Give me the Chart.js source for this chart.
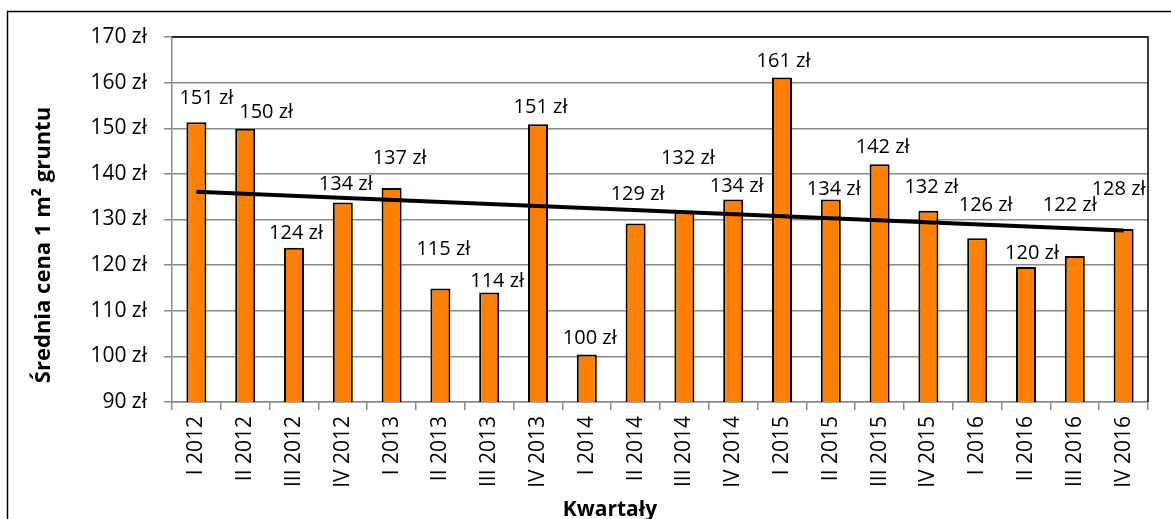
<!DOCTYPE html>
<html>
<head>
<meta charset="utf-8">
<script src="https://cdn.jsdelivr.net/npm/chart.js@4/dist/chart.umd.min.js"></script>
<style>
html,body{margin:0;padding:0;background:#fff;overflow:hidden;}
canvas{display:block;}
</style>
</head>
<body>
<canvas id="c" width="1171" height="519"></canvas>
<script>
const categories = ['I 2012','II 2012','III 2012','IV 2012','I 2013','II 2013','III 2013','IV 2013','I 2014','II 2014','III 2014','IV 2014','I 2015','II 2015','III 2015','IV 2015','I 2016','II 2016','III 2016','IV 2016'];
const prices = [151.3,149.9,123.8,133.7,136.9,114.9,114.0,150.9,100.4,129.1,131.6,134.4,161.1,134.4,142.1,131.9,125.9,119.6,122.0,127.9];
const trendStartEnd = [136.1, 127.6];
const yMin = 90, yMax = 170, yStep = 10;
const currency = ' zł';
const yTitle = 'Średnia cena 1 m² gruntu';
const xTitle = 'Kwartały';

// label placement offsets (style only): [dx, dy] from bar top centre to label centre
const labelOffsets = [[10,-25],[21,-18],[2,-16],[3,-20],[8,-31],[3,-40],[8,-13],[2.5,-18],[3,-18],[2,-31],[3.5,-55],[3.5,-14],[1.5,-18],[3,-11],[3,-18],[3,-25],[8.5,-34],[6,-15],[-5,-52],[-5,-41]];

const trendData = categories.map((c,i)=> i===0 ? trendStartEnd[0] : (i===categories.length-1 ? trendStartEnd[1] : null));

const FONT = "'Open Sans', sans-serif";
const GRID = '#8a8a8a';

const deco = {
  id:'deco',
  beforeDraw(chart){
    const ctx = chart.ctx;
    ctx.save();
    ctx.fillStyle='#fff';
    ctx.fillRect(0,0,chart.width,chart.height);
    ctx.strokeStyle='#000';
    ctx.lineWidth=1.5;
    ctx.beginPath();
    ctx.moveTo(7.5,600); ctx.lineTo(7.5,11.5); ctx.lineTo(1175,11.5);
    ctx.stroke();
    ctx.restore();
  },
  afterDatasetsDraw(chart){
    const ctx = chart.ctx;
    const a = chart.chartArea;
    ctx.save();
    ctx.strokeStyle='#000';
    ctx.lineWidth=1.5;
    ctx.beginPath();
    ctx.moveTo(a.left, a.top); ctx.lineTo(a.right, a.top); ctx.lineTo(a.right, a.bottom);
    ctx.stroke();
    const meta = chart.getDatasetMeta(1);
    ctx.fillStyle='#000';
    ctx.font = '20px ' + FONT;
    ctx.textAlign='center';
    ctx.textBaseline='alphabetic';
    meta.data.forEach((bar,i)=>{
      const off = labelOffsets[i];
      ctx.fillText(Math.round(prices[i]) + currency, bar.x + off[0], bar.y + off[1] + 7);
    });
    ctx.font = 'bold 22px ' + FONT;
    ctx.save();
    ctx.translate(44, 245);
    ctx.rotate(-Math.PI/2);
    ctx.textBaseline='middle';
    ctx.fillText(yTitle, 0, 0);
    ctx.restore();
    ctx.font = 'bold 21px ' + FONT;
    ctx.textBaseline='alphabetic';
    ctx.fillText(xTitle, 610, 516);
    ctx.restore();
  }
};

new Chart(document.getElementById('c'), {
  data: {
    labels: categories,
    datasets: [
      {
        type:'line',
        data: trendData,
        borderColor:'#000',
        borderWidth:4,
        pointRadius:0,
        spanGaps:true,
        order:0
      },
      {
        type:'bar',
        data: prices,
        backgroundColor:'#FF8000',
        borderColor:'#000',
        borderWidth:2,
        borderSkipped:false,
        barPercentage:0.41,
        categoryPercentage:1,
        order:1
      }
    ]
  },
  options: {
    responsive:false,
    animation:false,
    layout:{padding:{top:37,right:23,left:0,bottom:0}},
    plugins:{legend:{display:false},tooltip:{enabled:false}},
    scales:{
      x:{
        offset:true,
        ticks:{autoSkip:false,minRotation:90,maxRotation:90,color:'#000',font:{family:FONT,size:21},padding:6},
        grid:{offset:true,drawOnChartArea:false,drawTicks:true,tickLength:8,color:GRID,lineWidth:1.5},
        border:{color:GRID,width:1.5},
        afterFit(s){ s.height = 117; }
      },
      y:{
        min:yMin,max:yMax,
        ticks:{stepSize:yStep,color:'#000',font:{family:FONT,size:21},padding:17,callback:v=>v+currency},
        grid:{color:GRID,lineWidth:1.5,tickLength:8},
        border:{color:GRID,width:1.5},
        afterFit(s){ s.width = 172; }
      }
    }
  },
  plugins:[deco]
});
</script>
</body>
</html>
